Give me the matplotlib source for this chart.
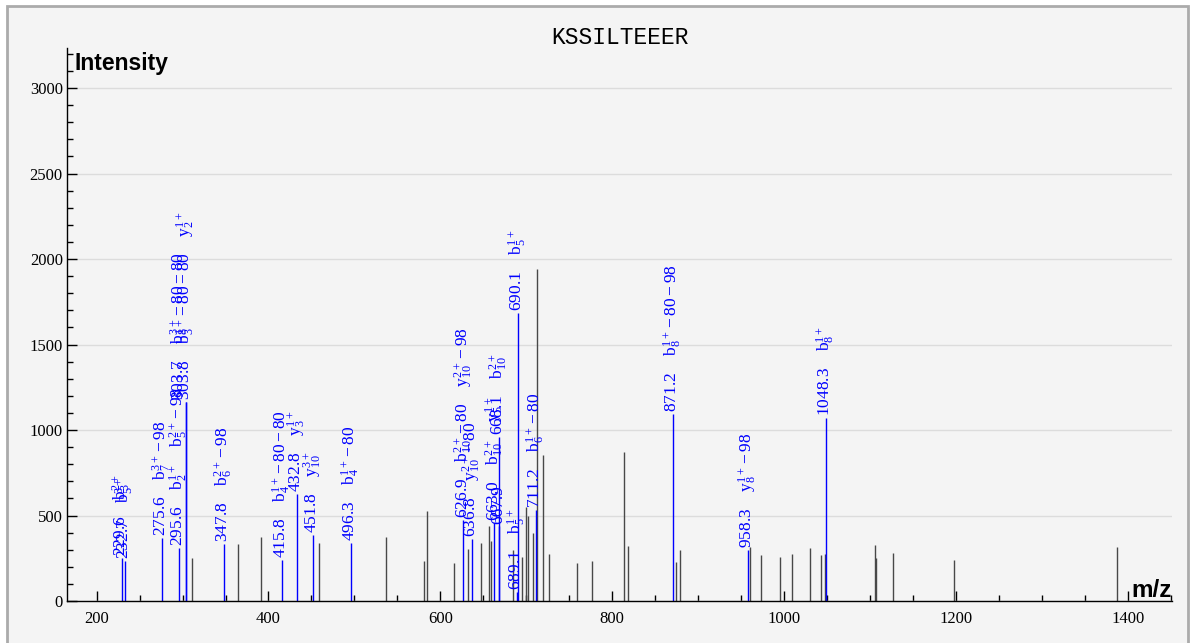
import numpy as np
import matplotlib
matplotlib.use("Agg")
import matplotlib.pyplot as plt
from matplotlib.patches import Rectangle
from matplotlib.ticker import MultipleLocator

plt.rcParams['font.family'] = ['Liberation Serif', 'DejaVu Serif']
plt.rcParams['mathtext.fontset'] = 'custom'
plt.rcParams['mathtext.rm'] = 'Liberation Serif'
plt.rcParams['mathtext.it'] = 'Liberation Serif:italic'

peptide = "KSSILTEEER"

# unannotated peaks
peak_mz = [310.5, 364.5, 391, 459, 536.5, 581.5, 584, 615.5, 632.5, 647, 656.5, 659,
           684, 695, 699.5, 702, 708, 712.5, 719, 726, 759.5, 777, 814, 818, 874.5,
           879, 960, 973, 995, 1009, 1030, 1042.5, 1047.5, 1106, 1107.5, 1127,
           1197.5, 1388]
peak_int = [250, 331, 374, 337, 374, 234, 526, 224, 302, 341, 440, 349,
            298, 255, 548, 499, 400, 1940, 854, 273, 224, 234, 870, 322, 228,
            298, 318, 269, 259, 275, 310, 269, 275, 326, 253, 279,
            240, 314]

# annotated (matched) peaks
ion_mz = [229.6, 232.7, 275.6, 295.6, 303.7, 303.8, 347.8, 415.8, 432.8, 451.8,
          496.3, 626.9, 636.8, 663.0, 667.9, 668.1, 689.1, 690.1, 711.2, 871.2,
          958.3, 1048.3]
ion_int = [250, 232, 367, 310, 1164, 1164, 333, 240, 624, 386,
           337, 474, 360, 455, 440, 960, 52, 1684, 532, 1092,
           298, 1070]
ion_names = [
    [r"$\mathrm{b}_{3}^{2+}$"],
    [r"$\mathrm{b}_{5}^{3+}$"],
    [r"$\mathrm{b}_{7}^{3+}-98$"],
    [r"$\mathrm{b}_{2}^{1+}$", r"$\mathrm{b}_{5}^{2+}-98$"],
    [r"$\mathrm{b}_{8}^{3+}-80-80$"],
    [r"$\mathrm{b}_{3}^{1+}-80-80$", r"$\mathrm{y}_{2}^{1+}$"],
    [r"$\mathrm{b}_{6}^{2+}-98$"],
    [r"$\mathrm{b}_{4}^{1+}-80-80$"],
    [r"$\mathrm{y}_{3}^{1+}$"],
    [r"$\mathrm{y}_{10}^{3+}$"],
    [r"$\mathrm{b}_{4}^{1+}-80$"],
    [r"$\mathrm{b}_{10}^{2+}-80$", r"$\mathrm{y}_{10}^{2+}-98$"],
    [r"$\mathrm{y}_{10}^{2+}-80$"],
    [r"$\mathrm{b}_{10}^{2+}$", r"$\mathrm{y}_{5}^{1+}$"],
    [],
    [r"$\mathrm{b}_{10}^{2+}$"],
    [r"$\mathrm{b}_{5}^{1+}$"],
    [r"$\mathrm{b}_{5}^{1+}$"],
    [r"$\mathrm{b}_{6}^{1+}-80$"],
    [r"$\mathrm{b}_{8}^{1+}-80-98$"],
    [r"$\mathrm{y}_{8}^{1+}-98$"],
    [r"$\mathrm{b}_{8}^{1+}$"],
]

fig = plt.figure(figsize=(11.9, 6.43), dpi=100)
fig.patch.set_facecolor('white')
frame = Rectangle((7 / 1190, -0.01), 1181 / 1190, 1 - 6 / 643 + 0.01,
                  transform=fig.transFigure, facecolor='#f4f4f4',
                  edgecolor='#ababab', linewidth=2, zorder=-10)
fig.patches.append(frame)

ax = fig.add_axes([67 / 1190, 42 / 643, 1105 / 1190, 553 / 643])
ax.set_facecolor('none')

ax.vlines(peak_mz, 0, peak_int, color='#484848', linewidth=1.0)
ax.vlines(ion_mz, 0, ion_int, color='#0000ff', linewidth=1.0)

for mz, inten, names in zip(ion_mz, ion_int, ion_names):
    label = "%.1f" % mz
    if names:
        label += "    " + "    ".join(names)
    # the two labels stacked on the 303.x peak are drawn slightly apart
    dx = -4 if mz == 303.7 else 0
    ax.annotate(label, (mz, inten), xytext=(dx, 1.5), textcoords='offset points',
                rotation=90, ha='center', va='bottom', color='#0000ff', fontsize=12.5)

ax.set_xlim(165.5, 1451.5)
ax.set_ylim(0, 3234)
ax.xaxis.set_major_locator(MultipleLocator(200))
ax.xaxis.set_minor_locator(MultipleLocator(50))
ax.yaxis.set_major_locator(MultipleLocator(500))
ax.yaxis.set_minor_locator(MultipleLocator(100))
ax.tick_params(which='major', direction='in', length=7.5, width=1, labelsize=12)
ax.tick_params(which='minor', direction='in', length=4.3, width=1)
ax.tick_params(axis='x', pad=7)
ax.tick_params(axis='y', pad=3)
ax.grid(axis='y', which='major', color='#dcdcdc', linewidth=1)
ax.set_axisbelow(True)
for s in ['top', 'right']:
    ax.spines[s].set_visible(False)
for s in ['left', 'bottom']:
    ax.spines[s].set_linewidth(1)

ax.text(0.007, 0.993, "Intensity", transform=ax.transAxes, ha='left', va='top',
        fontsize=16.5, fontweight='bold', family='Liberation Sans')
ax.text(1.0, 0.008, "m/z", transform=ax.transAxes, ha='right', va='baseline',
        fontsize=17.5, fontweight='bold', family='Liberation Sans')
fig.text(620 / 1190, 1 - 38 / 643, peptide, ha='center', va='center',
         fontsize=16.5, family='Liberation Mono')

fig.savefig("out.png", dpi=100)
